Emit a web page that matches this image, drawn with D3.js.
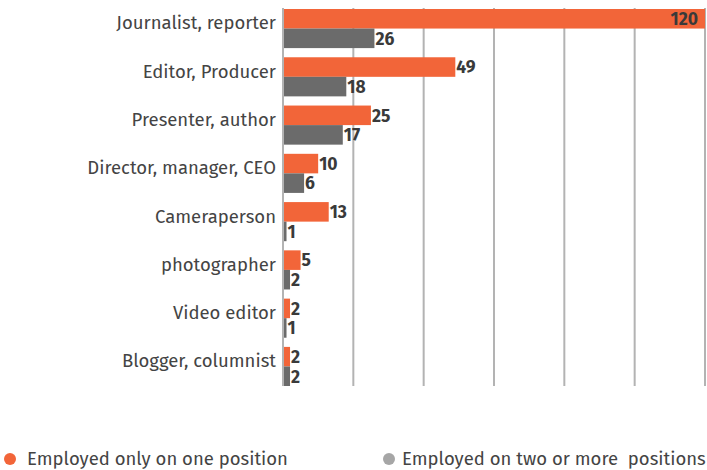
<!DOCTYPE html>
<html><head><meta charset="utf-8">
<script src="https://cdn.jsdelivr.net/npm/d3@7"></script>
<style>body{margin:0;background:#fff}svg{display:block}</style>
</head><body><svg id="c" width="707" height="470"></svg>
<script>
const categories = ["Journalist, reporter","Editor, Producer","Presenter, author","Director, manager, CEO","Cameraperson","photographer","Video editor","Blogger, columnist"];
const onePosition = [120,49,25,10,13,5,2,2];
const twoOrMore = [26,18,17,6,1,2,1,2];
const seriesNames = ["Employed only on one position","Employed on two or more  positions"];
const gridTicks = [20,40,60,80,100,120];

const svg = d3.select("#c");
const font = "'Fira Sans','Noto Sans',sans-serif";
const x = d3.scaleLinear().domain([0,120]).range([283,705]);
const y = d3.scaleBand().domain(categories).range([9,386]).paddingInner(0.19).paddingOuter(0);
const sub = d3.scaleBand().domain([0,1]).range([0,y.bandwidth()]);
const colors = ["#f26539","#6b6b6b"];

// gridlines
svg.append("g").selectAll("line").data(gridTicks).join("line")
  .attr("x1",d=>x(d)).attr("x2",d=>x(d)).attr("y1",8).attr("y2",386)
  .attr("stroke","#b3b3b3").attr("stroke-width",2);

const data = categories.map((c,i)=>({c, v:[onePosition[i], twoOrMore[i]]}));
const g = svg.append("g").selectAll("g").data(data).join("g")
  .attr("transform",d=>`translate(0,${y(d.c)})`);
g.selectAll("rect").data(d=>d.v).join("rect")
  .attr("x",x(0)).attr("y",(d,i)=>sub(i)).attr("width",d=>x(d)-x(0)).attr("height",sub.bandwidth())
  .attr("fill",(d,i)=>colors[i]);
g.selectAll("text.val").data(d=>d.v).join("text").attr("class","val")
  .attr("x",d=> d>=100 ? x(d)-7 : x(d)+1)
  .attr("text-anchor",d=> d>=100 ? "end":"start")
  .attr("y",(d,i)=>sub(i)+sub.bandwidth()/2).attr("dy","0.36em")
  .attr("font-family",font).attr("font-weight","bold").attr("font-size",17.5)
  .attr("fill","#3a3a3a").text(d=>d);

// axis line
svg.append("line").attr("x1",x(0)).attr("x2",x(0)).attr("y1",8).attr("y2",386)
  .attr("stroke","#b3b3b3").attr("stroke-width",2);

// category labels
const yAxis = d3.axisLeft(y).tickSize(0).tickPadding(0);
const ax = svg.append("g").attr("transform",`translate(276,-5)`).call(yAxis);
ax.select(".domain").remove();
ax.selectAll("text").attr("font-family",font).attr("font-size",18.5).attr("fill","#444");

// legend
const leg = [{x:10,tx:27},{x:389,tx:402}];
const lg = svg.append("g").selectAll("g").data(seriesNames).join("g");
lg.append("circle").attr("cx",(d,i)=>leg[i].x).attr("cy",459).attr("r",6)
  .attr("fill",(d,i)=>i===0?"#f26539":"#a6a6a6");
lg.append("text").attr("x",(d,i)=>leg[i].tx).attr("y",459).attr("dy","0.35em")
  .attr("font-family",font).attr("font-size",18.5).attr("fill","#444")
  .style("white-space","pre").text(d=>d);
</script></body></html>
